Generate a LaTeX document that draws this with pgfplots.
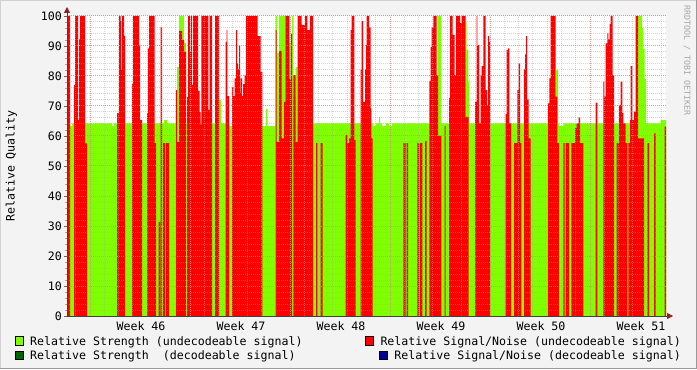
\documentclass[border=0pt]{standalone}
\usepackage{fontspec}
\setmainfont{DejaVu Sans Mono}
\usepackage{pgfplots}
\pgfplotsset{compat=1.18}
\usepackage{pgfplotstable}
\usetikzlibrary{arrows.meta}
\definecolor{lgreen}{RGB}{128,255,0}
\definecolor{rrdred}{RGB}{255,0,0}
\definecolor{dgreen}{RGB}{0,102,0}
\definecolor{dblue}{RGB}{0,0,153}
\definecolor{canvas}{RGB}{243,243,243}
\definecolor{mgrid}{RGB}{215,140,140}
\definecolor{ngrid}{RGB}{170,170,170}
\definecolor{arrowred}{RGB}{150,30,30}

\pgfplotstableread{
x y
67 64.2
70 63.3
72 64.2
112 63.3
114 64.2
164 65.3
167 64.2
177 83
179 100
184 91
186 64.2
219 72
221 64.2
229 63.3
232 64.2
262 63.3
266 69
267.3 63.3
275.7 100
277 87.6
279 100
285 64.2
289 91
291 88
292 100
293.3 73
295.7 83
297.7 64.2
373 63.3
376 64.2
379 66.4
380 64.2
382 63.3
386 64.2
389 63.3
392 64.2
437.3 100
441.3 64.2
465.7 98
466.7 88.7
468.3 78
469 64.2
556 82
558 64.2
559 63.3
563.3 64.2
638 100
642 96
643 89
644.5 79
646 64.2
660.7 65.3
666 65.3
}\greendata

\pgfplotstableread{
x y
67 100
70 0
74 77
75 100
78 65.3
79 92.3
80 100
85 57.5
87 0
117 67.6
119 100
120.7 98.3
121.3 82
122 100
124 93.4
125 0
132 77.3
133 100
139 90.4
140 65.3
142 0
147 67.6
148 89.2
149 100
154.5 57.6
156 0
158.7 31.4
160 0
160.7 96.4
162 0
163 57.6
165 0
166 57.6
169 0
176 75.3
177 58
179 95
182 92
184 88
186 0
187 73
188 100
190 88
191 100
192 77
193 100
198 75
199.5 68
200.7 63.7
201.3 100
208.3 68.7
209.5 100
212 0
215 100
219 0
225.7 91.4
226.5 95.3
227.3 73.3
229 0
232 76.4
233.3 73.3
234.7 79.2
236 95.3
237 84.2
238 82.2
239 90.3
240 74.4
240.7 79.2
242 73.3
243 77.3
244.5 80.3
246 100
257.7 93.3
260.5 81.3
262.3 0
275.7 95.3
276.7 58
279 88.4
281.7 59.2
284 71.4
285.3 100
289.3 79
291 94
292 0
293.3 80.3
295.7 58
297.7 100
301.7 97
305 100
307.3 95.3
310 100
313 0
316 57.6
317.3 0
320.7 57.6
322.7 0
345.7 60.3
347.3 57.6
349 59.2
350.7 95.3
351.7 100
354.3 58.7
355.7 0
360.7 82.2
361.7 98.3
363 71.4
365 82.2
366 90.3
366.7 100
369 96.2
370.7 69.2
371.3 59.2
372.7 0
403.3 57.6
405.7 0
406.7 57.6
408 0
417.3 57.6
419 0
420 57.6
422.3 0
425 58.4
426.7 0
429.3 78.4
430.7 89.6
431.7 96.2
433.3 100
436.7 80.3
438 60
441.3 0
444.7 63.3
445.7 0
449 72.6
450 100
452.7 93.7
454.7 80.3
456 100
460 97.6
461.7 100
465.7 66.4
468.7 0
475 71.4
476.7 100
477.3 90.3
479 64.2
480.7 80.3
481.7 83.3
483.3 100
485.7 75.3
487 70.3
488 93.3
489 91.4
490 0
505.7 67.3
506.7 88.7
508 89.2
509.3 64.2
511 0
514 57.6
517.3 75.3
518.7 84.2
520 57.6
521.3 0
524 82.2
525 87.2
526 93.3
527 72.2
528.7 59.2
530.7 0
548 70.9
549.3 79.2
550.7 100
555.7 73.1
557.3 57.6
559 0
563.3 57.6
564.7 0
565.7 57.6
569 0
571.3 57.6
575 62.6
576.7 64.2
578.7 66.2
580 57.6
583.3 0
595.7 71.1
597.3 0
603.3 78.1
604.3 73.1
605.7 90.9
607.3 94.4
608.3 92.2
609.7 97.3
610.7 100
612.7 80.3
614 0
616.7 57.6
619 70.3
620.7 78.1
622.3 67.6
623.3 64.2
625.7 57.6
627.3 0
628.3 57.6
630 65.3
630.7 83.3
632.3 65.3
634 68.1
635.7 100
638 59.2
644 0
647.3 57.6
649 0
654 60.9
655.7 0
664.7 63.1
666 63.1
}\reddata

\begin{document}
\fontsize{11.6bp}{13bp}\selectfont
\begin{tikzpicture}[x=1bp,y=1bp]
\useasboundingbox (0,0) rectangle (697,369);
\fill[canvas] (0,0) rectangle (697,369);
\draw[black!18,line width=1bp] (0.5,0.5) -- (0.5,368.5) -- (696.5,368.5);
\draw[black!40,line width=1bp] (0.5,0.5) -- (696.5,0.5) -- (696.5,368.5);
\begin{axis}[
  at={(67bp,53bp)}, anchor=south west,
  width=599bp, height=300bp, scale only axis,
  xmin=67, xmax=666, ymin=0, ymax=100,
  axis background/.style={fill=white},
  axis lines=left,
  axis line style={black!75, line width=0.8bp},
  x axis line style={-{Triangle[length=6bp,width=6bp,color=arrowred]}, shorten >=-7bp},
  y axis line style={-{Triangle[length=6bp,width=6bp,color=arrowred]}, shorten >=-9bp},
  axis on top,
  /pgf/number format/assume math mode=true,
  xtick={141,241,341,441,541,641},
  xticklabels={Week 46,Week 47,Week 48,Week 49,Week 50,Week 51},
  xtick style={draw=none},
  extra x ticks={90,190,290,390,490,590},
  extra x tick labels={},
  extra x tick style={grid=major, tick style={draw=arrowred!70, line width=0.8bp}},
  minor xtick={75.714,90,...,662},
  xminorgrids,
  ytick={0,10,...,100},
  minor ytick={0,2,...,100},
  ymajorgrids, yminorgrids,
  major grid style={mgrid, dash pattern=on 1bp off 1bp, line width=1bp, opacity=0.8},
  minor grid style={ngrid, dash pattern=on 1bp off 1bp, line width=1bp, opacity=0.5},
  tick align=outside,
  major tick length=3bp, minor tick length=2bp,
  tick style={black!60, line width=0.8bp},
  minor tick style={black!35},
  yticklabel style={anchor=east, inner sep=0pt, xshift=-2bp},
  xticklabel style={anchor=north, inner sep=0pt, yshift=-2bp},
  every axis y label/.style={at={(rel axis cs:0,0.5)}, xshift=-55.5bp, rotate=90, anchor=center},
  ylabel={Relative Quality},
]
\addplot[draw=none, fill=lgreen, const plot mark left] table[x=x,y=y] {\greendata} \closedcycle;
\addplot[draw=none, fill=rrdred, const plot mark left] table[x=x,y=y] {\reddata} \closedcycle;
\end{axis}
% legend
\fill[lgreen,draw=black,line width=0.8bp] (15.5,24) rectangle (23.5,32.5);
\node[anchor=base west,inner sep=0pt] at (30,23.5) {Relative Strength (undecodeable signal)};
\fill[dgreen,draw=black,line width=0.8bp] (15.5,9.5) rectangle (23.5,18);
\node[anchor=base west,inner sep=0pt] at (30,9.5) {Relative Strength\ \ (decodeable signal)};
\fill[rrdred,draw=black,line width=0.8bp] (365.5,24) rectangle (373.5,32.5);
\node[anchor=base east,inner sep=0pt] at (681,23.5) {Relative Signal/Noise (undecodeable signal)};
\fill[dblue,draw=black,line width=0.8bp] (379.5,9.5) rectangle (387.5,18);
\node[anchor=base east,inner sep=0pt] at (681,9.5) {Relative Signal/Noise (decodeable signal)};
\node[rotate=-90,text=black!35,font=\fontsize{8.3bp}{9bp}\selectfont,inner sep=0pt] at (687,308.5) {RRDTOOL / TOBI OETIKER};
\end{tikzpicture}
\end{document}
